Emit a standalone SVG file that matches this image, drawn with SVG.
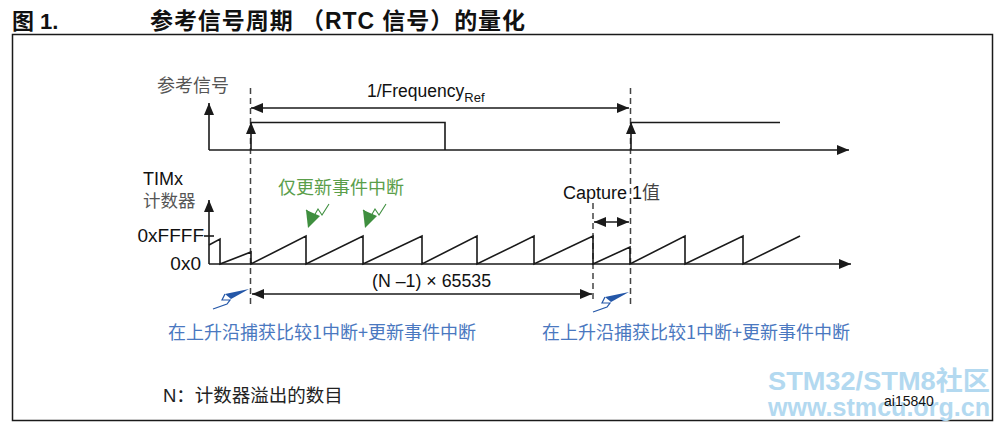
<svg xmlns="http://www.w3.org/2000/svg" width="1000" height="424" viewBox="0 0 1000 424">
<defs>
<marker id="ah" viewBox="0 0 12 10" refX="12" refY="5" markerWidth="12" markerHeight="10" orient="auto-start-reverse" markerUnits="userSpaceOnUse"><path d="M0,0 L12,5 L0,10 z" fill="#1a1a1a"/></marker>
<g id="boltG"><polygon points="0,0 -2,-18 12,-12" fill="#3f8f3f"/><polyline points="-2,-18 6,-12 10,-19 14,-13 21,-24" fill="none" stroke="#3f8f3f" stroke-width="1.1"/></g>
<g id="boltB"><polygon points="0,0 -24,5 -18,10" fill="#2457a8"/><polyline points="-24,5 -27,11 -19,11 -22,15 -36,20" fill="none" stroke="#2457a8" stroke-width="1.2"/></g>
</defs>
<style>
.ln{stroke:#1a1a1a;stroke-width:1.6;fill:none}
.ds{stroke:#444;stroke-width:1.5;stroke-dasharray:6,4;fill:none}
.t{font-family:"Liberation Sans","Noto Sans CJK SC",sans-serif;fill:#111}
.cn{font-family:"Noto Sans CJK SC","Liberation Sans",sans-serif}
</style>
<rect width="1000" height="424" fill="#fff"/>
<g id="title">
<text class="t" x="12" y="29" font-size="22" font-weight="bold">图 1.</text>
<text class="t" x="150" y="29" font-size="23" font-weight="bold" textLength="375" lengthAdjust="spacing">参考信号周期 （RTC 信号）的量化</text>
</g>
<rect x="12.5" y="34.5" width="980" height="386" fill="none" stroke="#1a1a1a" stroke-width="1.5"/>
<g id="connectors">
<line class="ds" x1="250.5" y1="88" x2="250.5" y2="305"/>
<line class="ds" x1="630.5" y1="88" x2="630.5" y2="305"/>
<line class="ds" x1="593" y1="203" x2="593" y2="302"/>
<line class="ln" x1="209" y1="150" x2="209" y2="103" marker-end="url(#ah)"/>
<line class="ln" x1="209" y1="150" x2="849" y2="150" marker-end="url(#ah)"/>
<line class="ln" x1="251" y1="150" x2="251" y2="122" marker-end="url(#ah)"/>
<polyline class="ln" points="251,122.5 445,122.5 445,150"/>
<line class="ln" x1="631" y1="150" x2="631" y2="122" marker-end="url(#ah)"/>
<polyline class="ln" points="631,122.5 780,122.5"/>
<line class="ln" x1="251" y1="108" x2="629" y2="108" marker-start="url(#ah)" marker-end="url(#ah)"/>
<line class="ln" x1="209" y1="264" x2="209" y2="200" marker-end="url(#ah)"/>
<line class="ln" x1="209" y1="264" x2="851" y2="264" marker-end="url(#ah)"/>
<line class="ln" x1="204" y1="236" x2="214" y2="236"/>
<polyline class="ln" stroke-linejoin="miter" points="209,245 220,239 220,264 251,252 251,264 306,236 306,264 363,236 363,264 422,236 422,264 477,236 477,264 534,236 534,264 593,236 593,264 630,247 630,264 685,236 685,264 743,236 743,264 800,236"/>
<line class="ln" x1="594" y1="222" x2="629" y2="222" marker-start="url(#ah)" marker-end="url(#ah)"/>
<line class="ln" x1="252" y1="294" x2="592" y2="294" marker-start="url(#ah)" marker-end="url(#ah)"/>
</g>
<g id="bolts">
<use href="#boltG" x="308" y="228"/>
<use href="#boltG" x="365" y="228"/>
<use href="#boltB" x="249" y="289"/>
<use href="#boltB" x="629" y="292"/>
</g>
<g id="labels">
<text class="t" x="157" y="92" font-size="18" style="fill:#555">参考信号</text>
<text class="t" x="367" y="97" font-size="17.5">1/Frequency<tspan font-size="13" dy="5">Ref</tspan></text>
<text class="t" x="143" y="185" font-size="18">TIMx</text>
<text class="t" x="143" y="207" font-size="17.5" style="fill:#555">计数器</text>
<text class="t" x="204" y="242" font-size="19" text-anchor="end">0xFFFF</text>
<text class="t" x="201" y="270" font-size="19" text-anchor="end">0x0</text>
<text class="cn" x="278" y="194" font-size="18" fill="#5a9e4a">仅更新事件中断</text>
<text class="t" x="563" y="199" font-size="18">Capture 1<tspan class="cn" style="fill:#444">值</tspan></text>
<text class="t" x="372" y="287" font-size="17.8">(N –1) × 65535</text>
<text class="cn" x="168" y="339" font-size="18" fill="#4a78c0">在上升沿捕获比较1中断+更新事件中断</text>
<text class="cn" x="542" y="339" font-size="18" fill="#4a78c0">在上升沿捕获比较1中断+更新事件中断</text>
<text class="t" x="163" y="402" font-size="18.5" style="fill:#222">N：计数器溢出的数目</text>
</g>
<g id="watermark" font-family="'Liberation Sans','Noto Sans CJK SC',sans-serif" font-weight="bold" fill="#b3d9f0">
<text x="768" y="390" font-size="26" textLength="222" lengthAdjust="spacingAndGlyphs">STM32/STM8社区</text>
<text x="768" y="416" font-size="26" textLength="222" lengthAdjust="spacingAndGlyphs">www.stmcu.org.cn</text>
</g>
<text class="t" x="884" y="406" font-size="14">ai15840</text>
</svg>
